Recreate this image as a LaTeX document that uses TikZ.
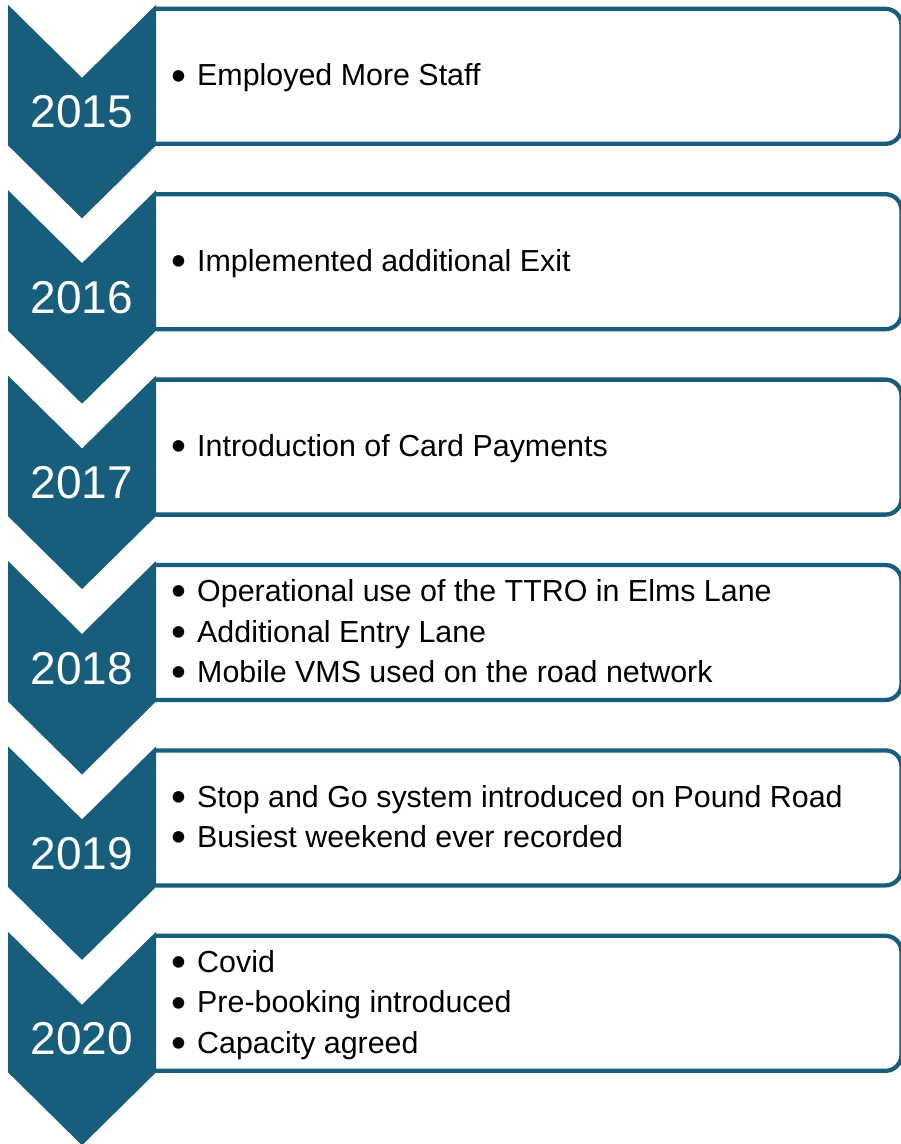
\documentclass[tikz,border=0pt]{standalone}
\usepackage{fontspec}
\usepackage{graphicx}
\setmainfont{Liberation Sans}
\definecolor{tl}{RGB}{23,94,125}
\tikzset{
  yeartext/.style={text=white, font=\fontsize{46}{50}\selectfont, inner sep=0pt, anchor=base},
  bultext/.style={font=\fontsize{30.4}{40}\selectfont, inner sep=0pt, anchor=base west},
  chev/.style={fill=tl, draw=none},
  tbox/.style={draw=tl, line width=4.3pt, line join=round},
}
\newcommand\tlbul{\makebox[25.5pt][l]{\raisebox{-4.3pt}{\scalebox{1.4}{\textbullet}}}}
\newcommand\tlrow[4]{%
  \pgfmathsetmacro\T{8.8+185.4*#1}%
  \pgfmathsetmacro\B{\T+135}%
  \draw[tbox] (156,\T) -- (885.5,\T) .. controls (894.3,\T) and (901.5,\T+7.2) .. (901.5,\T+16)
     -- (901.5,\B-16) .. controls (901.5,\B-7.2) and (894.3,\B) .. (885.5,\B) -- (156,\B);
  \fill[chev] (8,\T-4) -- (82,\T+69) -- (156,\T-4) -- (156,\T+136.5) -- (82,\T+209.5) -- (8,\T+136.5) -- cycle;
  \node[yeartext] (y#1) at (82,\T+119) {#2};
  \foreach \ln [count=\k] in {#4} {
    \pgfmathsetmacro\yb{\T+67.5+9.5+(\k-1-(#3-1)/2)*40.5}
    \node[bultext] (t#1-\k) at (171.5,\yb) {\tlbul\ln};
  }
}
\begin{document}
\begin{tikzpicture}[x=1pt,y=-1pt]
\useasboundingbox (0,0) rectangle (901,1144);
\fill[white] (0,0) rectangle (901,1144);
\tlrow{0}{2015}{1}{Employed More Staff}
\tlrow{1}{2016}{1}{Implemented additional Exit}
\tlrow{2}{2017}{1}{Introduction of Card Payments}
\tlrow{3}{2018}{3}{Operational use of the TTRO in Elms Lane,Additional Entry Lane,Mobile VMS used on the road network}
\tlrow{4}{2019}{2}{Stop and Go system introduced on Pound Road,Busiest weekend ever recorded}
\tlrow{5}{2020}{3}{Covid,Pre-booking introduced,Capacity agreed}
\end{tikzpicture}
\end{document}
